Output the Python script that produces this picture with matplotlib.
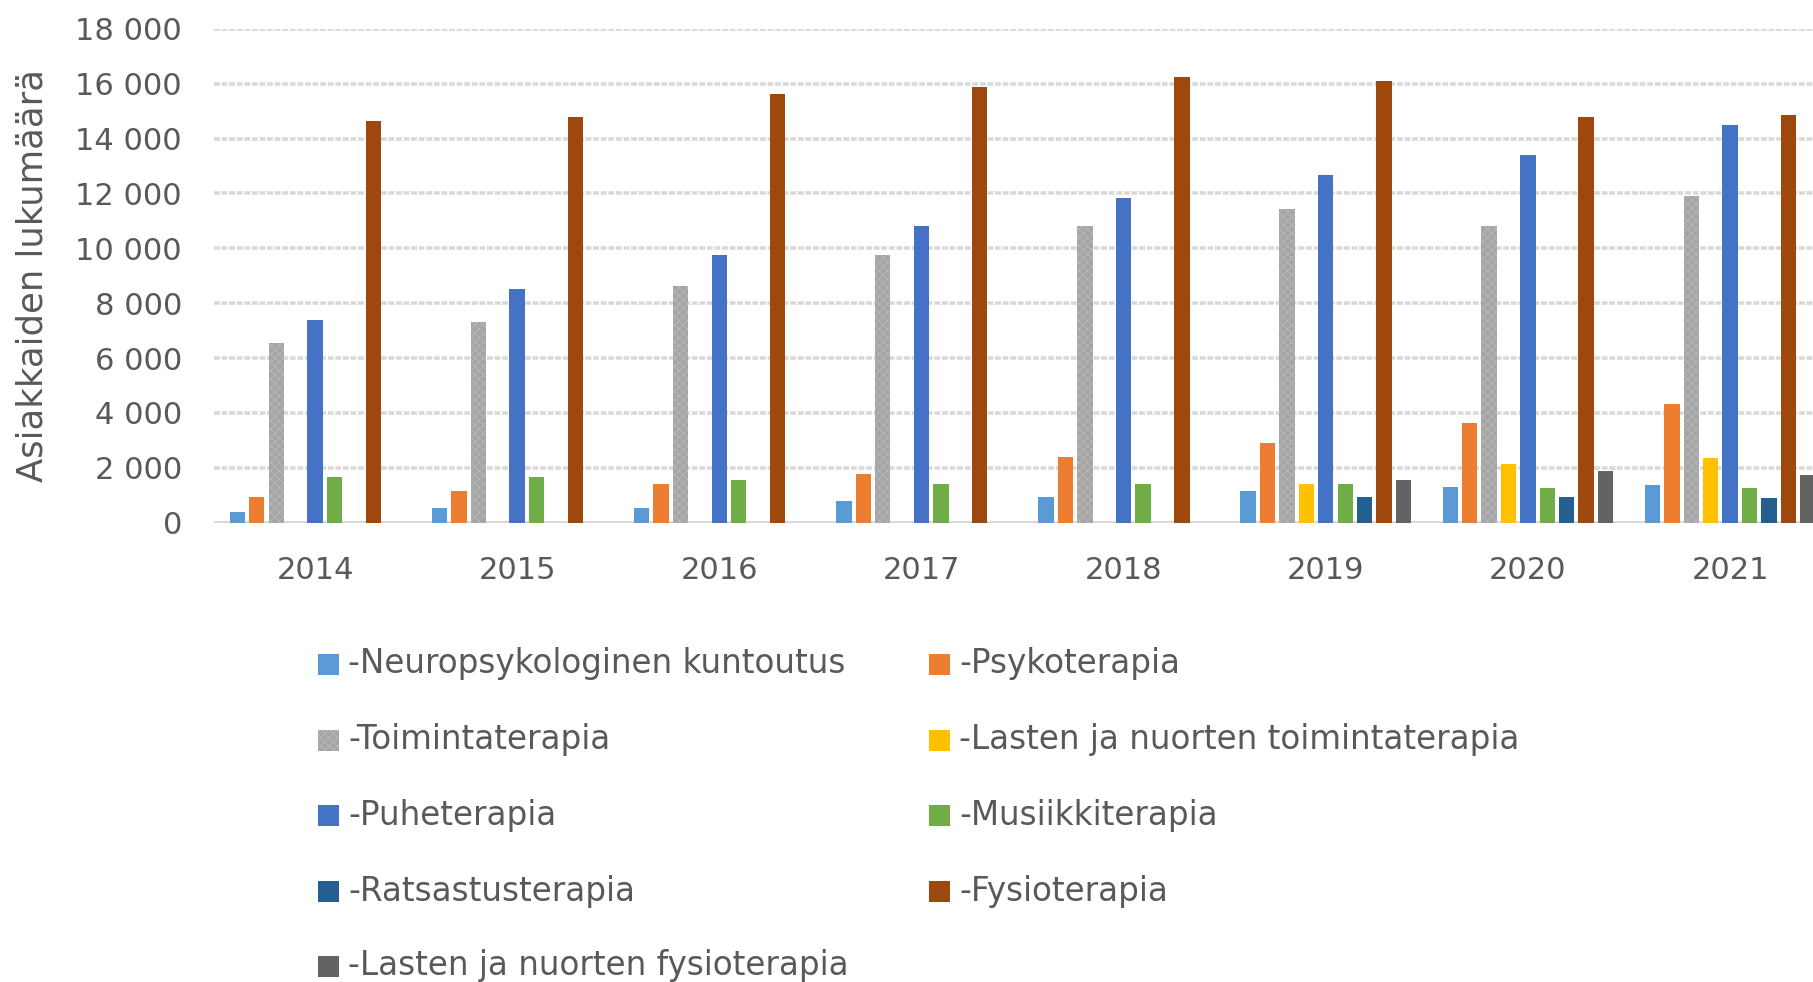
import numpy as np
import matplotlib
matplotlib.use("Agg")
import matplotlib.pyplot as plt
from matplotlib.patches import Rectangle
from matplotlib.ticker import FuncFormatter, MultipleLocator

years = ["2014", "2015", "2016", "2017", "2018", "2019", "2020", "2021"]
series_names = [
    "-Neuropsykologinen kuntoutus",
    "-Psykoterapia",
    "-Toimintaterapia",
    "-Lasten ja nuorten toimintaterapia",
    "-Puheterapia",
    "-Musiikkiterapia",
    "-Ratsastusterapia",
    "-Fysioterapia",
    "-Lasten ja nuorten fysioterapia",
]
nan = np.nan
neuro = [400, 550, 550, 780, 920, 1150, 1290, 1370]
psyko = [920, 1150, 1390, 1760, 2380, 2890, 3620, 4330]
toiminta = [6530, 7300, 8640, 9740, 10830, 11450, 10830, 11910]
lasten_toiminta = [nan, nan, nan, nan, nan, 1390, 2120, 2360]
puhe = [7400, 8500, 9740, 10830, 11820, 12690, 13420, 14500]
musiikki = [1650, 1650, 1540, 1390, 1390, 1390, 1270, 1260]
ratsastus = [nan, nan, nan, nan, nan, 920, 920, 900]
fysio = [14630, 14770, 15610, 15870, 16230, 16110, 14770, 14870]
lasten_fysio = [nan, nan, nan, nan, nan, 1540, 1890, 1730]

values = [neuro, psyko, toiminta, lasten_toiminta, puhe, musiikki,
          ratsastus, fysio, lasten_fysio]
colors = ["#5B9BD5", "#ED7D31", "#A5A5A5", "#FFC000", "#4472C4",
          "#70AD47", "#255E91", "#9E480E", "#636363"]
hatches = [None, None, "xxxx", None, None, None, None, None, None]
HATCH_COL = "#b8b8b8"

FONT = "DejaVu Sans"
TXT = "#595959"
plt.rcParams["font.family"] = [FONT]
plt.rcParams["hatch.linewidth"] = 0.6

fig = plt.figure(figsize=(18.13, 9.82), dpi=100)
ax = fig.add_axes([0.118, 0.4678, 0.882, 0.5028])

x = np.arange(len(years))
pitch = 0.096
width = 0.076
for i, (vals, col, h) in enumerate(zip(values, colors, hatches)):
    off = (i - 4) * pitch
    ax.bar(x + off, vals, width=width, color=col, linewidth=0,
           hatch=h, edgecolor=HATCH_COL if h else col, zorder=3)

ax.set_xlim(-0.5, 7.41)
ax.set_ylim(0, 18000)
ax.yaxis.set_major_locator(MultipleLocator(2000))
ax.yaxis.set_major_formatter(FuncFormatter(lambda v, p: f"{v:,.0f}".replace(",", " ")))
ax.grid(axis="y", color="#d9d9d9", linewidth=2.6, linestyle=(0, (1.6, 0.5)), zorder=0)
ax.axhline(0, color="#d9d9d9", linewidth=2.6, zorder=2)
for s in ax.spines.values():
    s.set_visible(False)
ax.set_xticks(x)
ax.set_xticklabels(years)
ax.tick_params(axis="both", length=0, labelsize=22, labelcolor=TXT)
ax.tick_params(axis="y", pad=23)
ax.tick_params(axis="x", pad=24)

fig.text(33 / 1813, 1 - 276 / 982, "Asiakkaiden lukumäärä", rotation=90,
         ha="center", va="center", fontsize=25.5, color=TXT)

# legend (Excel order, two columns, row-wise)
row_y = [664, 740, 815, 891, 966]
mark_x = [318, 929]
msize = 21
W, H = 1813, 982
for i, (name, col, h) in enumerate(zip(series_names, colors, hatches)):
    r, c = divmod(i, 2)
    cx, cy = mark_x[c], row_y[r]
    fig.patches.append(Rectangle(((cx) / W, 1 - (cy + msize / 2) / H), msize / W, msize / H,
                                 transform=fig.transFigure, facecolor=col, linewidth=0,
                                 hatch=h, edgecolor=HATCH_COL if h else col))
    fig.text((cx + msize + 9) / W, 1 - cy / H, name, ha="left", va="center",
             fontsize=23.5, color=TXT)

fig.savefig("out.png", dpi=100)
